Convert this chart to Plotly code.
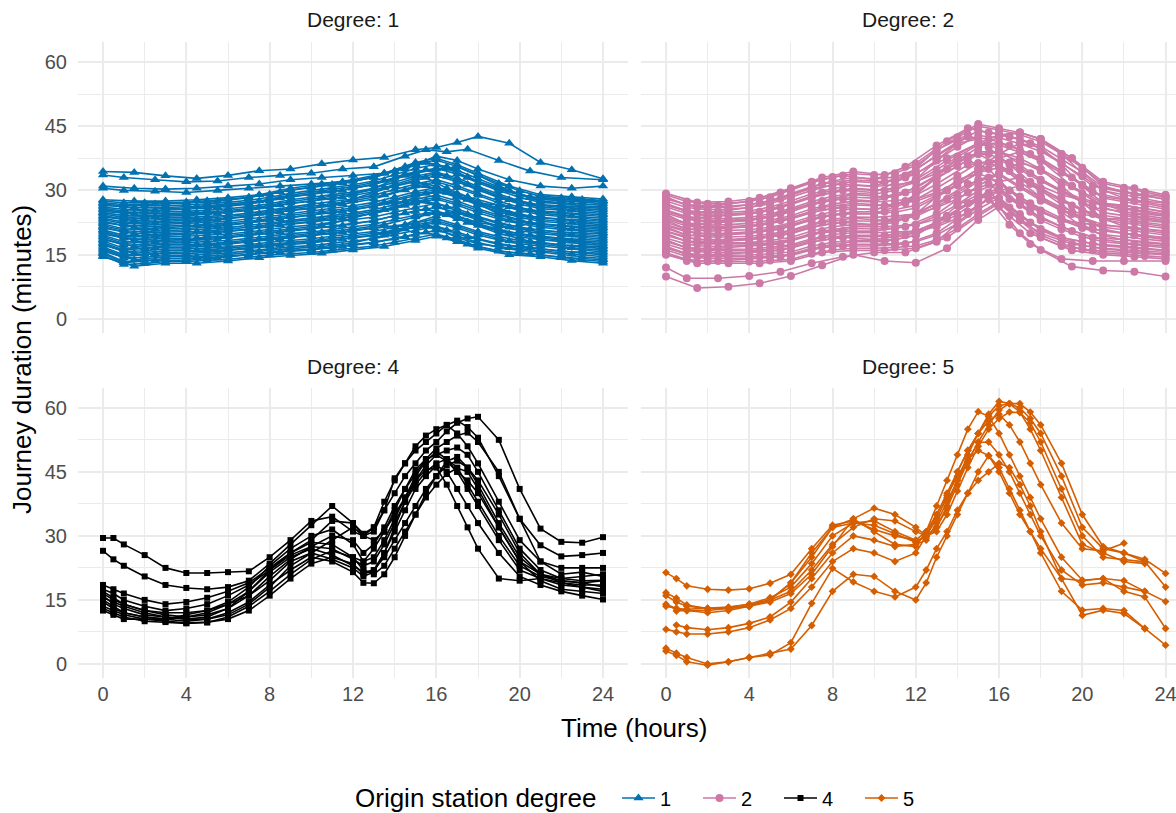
import plotly.graph_objects as go

# ---- colours / markers per origin-station degree ----
COLORS = {"1": "#0072B2", "2": "#CC79A7", "4": "#000000", "5": "#D55E00"}
SYMBOLS = {"1": "triangle-up", "2": "circle", "4": "square", "5": "diamond"}
MSIZE = {"1": 9, "2": 8, "4": 6, "5": 6}

# ---- sampling hours ----
D12_HOURS_A = [0, 1.5, 3, 4.5, 6, 7.5, 9, 10.5, 12, 13.5, 15, 16, 17, 18, 19.5, 21, 22.5, 24]
D12_HOURS_B = [0, 1, 2.5, 4, 5.5, 7, 8.5, 10, 11.5, 13, 14.5, 15.5, 16.5, 17.5, 19, 20.5, 22, 24]
D12_HOURS_C = [0, 1, 2, 3, 4, 5, 6, 7, 8, 9, 10, 11, 12, 13, 14, 15, 16, 17, 18, 19, 20, 21, 22, 23, 24]
D45_HOURS = [0, 0.5, 1, 2, 3, 4, 5, 6, 7, 8, 9, 10, 11, 12, 12.5, 13, 13.5, 14, 14.5,
             15, 15.5, 16, 16.5, 17, 17.5, 18, 19, 20, 21, 22, 23, 24]

# ---- degree 1 journeys (minutes), sampled on hours A / B alternately ----
DEG1_LINES = [
    [14.5, 12.3, 13.0, 13.0, 13.5, 14.3, 14.8, 15.3, 16.1, 16.9, 18.3, 19.3, 18.0, 16.5, 15.0, 14.5, 13.6, 13.0],
    [15.2, 13.1, 13.7, 13.7, 14.2, 15.0, 15.6, 16.1, 16.9, 17.8, 19.2, 20.2, 18.9, 17.4, 15.8, 15.2, 14.4, 13.8],
    [15.8, 13.8, 14.5, 14.5, 15.0, 15.8, 16.4, 16.9, 17.7, 19.5, 21.5, 21.1, 19.0, 17.5, 16.6, 15.9, 15.1, 14.5],
    [16.5, 14.6, 15.2, 15.2, 15.7, 16.5, 17.2, 17.7, 18.6, 19.5, 21.0, 22.0, 20.7, 19.1, 17.4, 16.7, 15.8, 15.3],
    [17.2, 15.3, 15.9, 16.0, 16.5, 17.2, 17.9, 18.5, 19.4, 20.3, 21.9, 22.9, 21.6, 20.0, 18.2, 17.4, 16.6, 16.0],
    [17.8, 16.1, 16.6, 16.7, 17.2, 18.0, 18.7, 19.4, 20.2, 21.2, 22.0, 24.5, 24.5, 22.5, 20.0, 18.1, 17.3, 16.8],
    [18.5, 16.9, 17.4, 17.4, 17.9, 18.7, 19.5, 20.2, 21.0, 22.0, 23.8, 24.8, 23.4, 21.8, 19.8, 18.9, 18.1, 17.5],
    [19.2, 17.6, 18.1, 18.2, 18.7, 19.5, 20.3, 21.0, 21.8, 22.9, 24.7, 25.7, 24.3, 22.6, 20.6, 19.6, 18.8, 18.3],
    [19.8, 18.4, 18.8, 18.9, 19.4, 20.2, 21.1, 21.8, 23.5, 25.5, 27.5, 26.6, 24.0, 22.5, 21.4, 20.3, 19.6, 19.0],
    [20.5, 19.1, 19.5, 19.7, 20.2, 20.9, 21.9, 22.6, 23.5, 24.6, 26.5, 27.5, 26.1, 24.4, 22.2, 21.0, 20.3, 19.8],
    [21.2, 19.9, 20.3, 20.4, 20.9, 21.7, 22.7, 23.4, 24.3, 25.5, 27.4, 28.4, 27.0, 25.3, 23.0, 21.8, 21.0, 20.5],
    [21.8, 20.7, 21.0, 21.1, 21.6, 22.4, 23.4, 24.2, 25.1, 26.3, 27.5, 29.3, 29.5, 28.0, 24.5, 22.5, 21.8, 21.3],
    [22.5, 21.4, 21.7, 21.9, 22.4, 23.1, 24.2, 25.0, 25.9, 27.2, 29.2, 30.2, 28.8, 27.0, 24.6, 23.2, 22.5, 22.0],
    [23.2, 22.2, 22.4, 22.6, 23.1, 23.9, 25.0, 25.8, 26.8, 28.0, 30.1, 31.1, 29.7, 27.9, 25.4, 23.9, 23.3, 22.8],
    [23.8, 22.9, 23.2, 23.4, 23.9, 24.6, 25.8, 26.6, 27.6, 28.9, 31.0, 32.0, 30.6, 28.8, 26.2, 24.7, 24.0, 23.5],
    [24.5, 23.7, 23.9, 24.1, 24.6, 25.3, 26.6, 27.5, 28.4, 30.5, 33.5, 33.0, 30.5, 28.5, 26.5, 25.4, 24.8, 24.3],
    [25.1, 24.5, 24.6, 24.8, 25.3, 26.1, 27.4, 28.3, 29.2, 30.6, 32.9, 33.9, 32.4, 30.5, 27.8, 26.1, 25.5, 25.0],
    [25.8, 25.2, 25.3, 25.6, 26.1, 26.8, 28.2, 29.1, 30.0, 31.4, 33.8, 34.8, 33.3, 31.4, 28.6, 26.8, 26.3, 25.8],
    [26.5, 26.0, 26.0, 26.3, 26.8, 27.5, 28.9, 29.9, 30.9, 32.3, 34.0, 35.0, 35.5, 33.5, 30.0, 27.5, 27.0, 26.5],
    [27.1, 26.7, 26.8, 27.0, 27.5, 28.3, 29.7, 30.7, 31.7, 33.1, 35.6, 36.6, 35.1, 33.1, 30.2, 28.3, 27.8, 27.3],
    [27.8, 27.5, 27.5, 27.8, 28.3, 29.0, 30.5, 31.5, 32.5, 34.0, 36.5, 37.5, 36.0, 34.0, 31.0, 29.0, 28.5, 28.0],
    [30.5, 30.0, 29.8, 29.5, 30.0, 30.5, 31.0, 31.5, 32.0, 33.0, 35.0, 36.5, 35.5, 33.0, 30.5, 28.5, 28.0, 27.5],
    [31.0, 30.5, 30.3, 30.5, 31.0, 31.5, 32.5, 33.0, 33.5, 34.0, 36.0, 38.0, 37.0, 35.0, 32.5, 31.0, 30.5, 31.0],
    [33.6, 33.0, 32.5, 32.0, 32.2, 33.0, 33.5, 34.0, 35.0, 35.5, 38.0, 39.5, 39.0, 39.6, 37.0, 34.5, 33.0, 32.5],
    [34.4, 34.2, 33.4, 32.8, 33.5, 34.6, 35.0, 36.2, 37.1, 37.7, 39.5, 40.0, 41.2, 42.6, 41.0, 36.5, 34.8, 32.7],
]

# ---- further degree 1 journeys, sampled hourly ----
DEG1_LINES_HOURLY = [
    [14.8, 12.7, 12.9, 13.4, 13.4, 13.6, 13.9, 14.4, 14.9, 15.2, 15.5, 16.0, 16.5, 17.0, 17.9, 18.8, 19.8, 18.5, 16.9, 15.9, 15.2, 14.9, 14.3, 13.8, 13.4],
    [15.5, 13.4, 13.6, 14.1, 14.1, 14.3, 14.6, 15.1, 15.6, 16.0, 16.3, 16.8, 17.3, 17.9, 18.8, 19.7, 20.7, 19.4, 17.8, 16.7, 16.0, 15.6, 15.0, 14.5, 14.1],
    [16.2, 14.2, 14.4, 14.8, 14.8, 15.1, 15.4, 15.9, 16.4, 16.8, 17.1, 17.6, 18.2, 18.7, 19.7, 20.6, 21.6, 20.3, 18.7, 17.6, 16.7, 16.3, 15.8, 15.3, 14.9],
    [16.8, 15.0, 15.1, 15.5, 15.6, 15.8, 16.1, 16.6, 17.1, 17.6, 17.9, 18.4, 19.0, 19.6, 20.6, 21.5, 22.5, 21.2, 19.6, 18.4, 17.5, 17.0, 16.5, 16.0, 15.6],
    [17.5, 15.7, 15.9, 16.3, 16.3, 16.5, 16.8, 17.3, 17.9, 18.3, 18.7, 19.3, 19.8, 20.4, 21.4, 22.4, 23.4, 22.0, 20.4, 19.2, 18.3, 17.8, 17.2, 16.8, 16.4],
    [18.2, 16.5, 16.6, 17.0, 17.0, 17.3, 17.6, 18.1, 18.6, 19.1, 19.5, 20.1, 20.6, 21.3, 21.5, 22.5, 24.0, 25.0, 23.5, 21.0, 19.1, 18.5, 18.0, 17.5, 17.1],
    [18.8, 17.2, 17.4, 17.7, 17.8, 18.0, 18.3, 18.8, 19.4, 19.9, 20.3, 20.9, 21.4, 22.1, 23.2, 24.2, 25.2, 23.9, 22.2, 20.9, 19.8, 19.2, 18.7, 18.2, 17.9],
    [19.5, 18.0, 18.1, 18.4, 18.5, 18.8, 19.1, 19.6, 20.1, 20.7, 21.1, 21.7, 22.3, 22.9, 24.1, 25.1, 26.1, 24.8, 23.1, 21.7, 20.6, 19.9, 19.5, 19.0, 18.6],
    [20.2, 18.8, 18.9, 19.2, 19.3, 19.5, 19.8, 20.3, 20.9, 21.5, 21.9, 22.5, 23.1, 23.8, 24.9, 26.0, 27.0, 25.7, 23.9, 22.5, 21.4, 20.7, 20.2, 19.7, 19.4],
    [20.8, 19.5, 19.6, 19.9, 20.0, 20.2, 20.5, 21.0, 21.6, 22.3, 22.8, 23.3, 23.9, 24.6, 25.8, 27.0, 28.0, 26.6, 24.8, 23.3, 22.2, 21.4, 20.9, 20.5, 20.1],
    [21.5, 20.3, 20.4, 20.6, 20.7, 21.0, 21.3, 21.8, 22.4, 23.0, 23.6, 24.1, 24.7, 25.5, 26.7, 27.9, 28.9, 27.5, 25.7, 24.2, 22.9, 22.1, 21.7, 21.2, 20.9],
    [22.2, 21.0, 21.1, 21.3, 21.5, 21.7, 22.0, 22.5, 23.1, 23.8, 24.4, 24.9, 25.5, 26.3, 27.6, 28.8, 29.8, 28.4, 26.6, 25.0, 23.7, 22.8, 22.4, 22.0, 21.6],
    [22.8, 21.8, 21.9, 22.1, 22.2, 22.5, 22.8, 23.3, 23.9, 24.6, 25.2, 25.7, 26.4, 27.2, 28.4, 29.7, 30.7, 29.3, 27.4, 25.8, 24.5, 23.6, 23.2, 22.7, 22.4],
    [23.5, 22.6, 22.6, 22.8, 22.9, 23.2, 23.5, 24.0, 24.6, 25.4, 26.0, 26.5, 28.0, 29.5, 31.0, 32.0, 31.0, 28.5, 27.0, 26.6, 25.3, 24.3, 23.9, 23.5, 23.1],
    [24.1, 23.3, 23.4, 23.5, 23.7, 23.9, 24.2, 24.7, 25.4, 26.2, 26.8, 27.4, 28.0, 28.9, 30.2, 31.5, 32.5, 31.1, 29.2, 27.5, 26.0, 25.0, 24.6, 24.2, 23.9],
    [24.8, 24.1, 24.1, 24.2, 24.4, 24.7, 25.0, 25.5, 26.1, 27.0, 27.6, 28.2, 28.8, 29.7, 31.1, 32.4, 33.4, 32.0, 30.1, 28.3, 26.8, 25.7, 25.4, 25.0, 24.6],
    [25.5, 24.8, 24.9, 25.0, 25.1, 25.4, 25.7, 26.2, 26.9, 27.8, 28.4, 29.0, 29.6, 30.5, 31.9, 33.3, 34.3, 32.9, 30.9, 29.1, 27.6, 26.5, 26.1, 25.7, 25.4],
    [26.1, 25.6, 25.6, 25.7, 25.9, 26.2, 26.5, 27.0, 27.6, 28.5, 29.2, 29.8, 30.5, 31.4, 32.8, 34.2, 35.2, 33.8, 31.8, 29.9, 28.4, 27.2, 26.9, 26.4, 26.1],
    [26.8, 26.4, 26.4, 26.4, 26.6, 26.9, 27.2, 27.7, 28.4, 29.3, 30.0, 30.6, 31.3, 32.2, 33.7, 35.1, 36.1, 34.7, 32.7, 30.8, 29.1, 27.9, 27.6, 27.2, 26.9],
    [27.5, 27.1, 27.1, 27.1, 27.3, 27.6, 27.9, 28.4, 29.1, 30.1, 30.8, 31.4, 32.1, 33.1, 34.6, 36.1, 37.1, 35.6, 33.6, 31.6, 29.9, 28.6, 28.3, 27.9, 27.6],
]

# ---- degree 2 journeys (minutes), sampled on hours A / B alternately ----
DEG2_LINES = [
    [15.0, 13.0, 13.0, 13.0, 13.5, 15.5, 16.0, 16.0, 16.5, 19.0, 24.0, 27.0, 23.0, 19.0, 16.0, 15.0, 14.5, 14.0],
    [15.5, 13.5, 13.5, 14.0, 14.5, 16.5, 17.0, 17.0, 17.5, 20.0, 25.0, 28.0, 24.0, 20.0, 17.0, 16.0, 15.5, 15.0],
    [16.5, 14.5, 14.5, 14.5, 15.0, 17.0, 18.0, 18.0, 19.5, 24.0, 28.5, 28.0, 23.0, 20.0, 17.5, 16.5, 16.0, 15.5],
    [17.0, 15.0, 15.0, 15.5, 16.0, 18.0, 19.0, 18.5, 19.5, 22.5, 27.0, 29.5, 26.0, 22.5, 19.0, 17.5, 17.0, 16.0],
    [18.0, 16.0, 16.0, 16.0, 17.0, 19.0, 19.5, 19.5, 20.5, 23.5, 28.5, 30.5, 27.0, 23.5, 20.5, 18.5, 17.5, 17.0],
    [18.5, 16.5, 16.5, 17.0, 17.5, 20.0, 20.5, 20.5, 21.5, 24.5, 29.5, 31.5, 28.0, 25.0, 21.5, 19.0, 18.5, 17.5],
    [19.5, 17.5, 17.5, 17.5, 18.5, 20.5, 21.5, 21.5, 22.0, 24.0, 28.0, 32.0, 33.0, 30.0, 25.0, 21.0, 19.5, 18.5],
    [20.0, 18.0, 18.0, 18.5, 19.5, 21.5, 22.5, 22.0, 23.5, 27.0, 31.5, 33.0, 30.0, 27.0, 23.5, 21.0, 20.0, 19.0],
    [20.5, 18.5, 18.5, 19.0, 20.5, 22.5, 23.5, 23.0, 24.5, 28.0, 32.5, 34.0, 31.0, 28.0, 24.5, 22.0, 21.0, 20.0],
    [21.5, 19.5, 19.5, 20.0, 21.0, 23.5, 24.5, 24.5, 27.0, 33.0, 37.0, 35.0, 30.0, 26.0, 23.0, 22.0, 21.5, 20.5],
    [22.0, 20.0, 20.0, 20.5, 22.0, 24.0, 25.0, 25.0, 26.5, 30.0, 35.0, 36.0, 33.0, 30.5, 26.5, 23.5, 22.5, 21.5],
    [23.0, 21.0, 21.0, 21.5, 23.0, 25.0, 26.0, 25.5, 27.5, 31.5, 36.0, 36.5, 34.5, 31.5, 28.0, 24.5, 23.5, 22.5],
    [23.5, 21.5, 21.5, 22.0, 23.5, 26.0, 27.0, 26.5, 27.5, 30.0, 34.0, 37.5, 39.0, 37.0, 31.0, 26.0, 24.0, 23.0],
    [24.5, 22.0, 22.5, 23.0, 24.5, 27.0, 28.0, 27.5, 29.5, 33.5, 38.0, 38.5, 36.5, 34.0, 30.0, 26.0, 25.0, 24.0],
    [25.0, 23.0, 23.0, 23.5, 25.5, 27.5, 29.0, 28.5, 30.5, 35.0, 39.0, 39.0, 37.5, 35.0, 31.0, 27.0, 25.5, 24.5],
    [25.5, 23.5, 24.0, 24.5, 26.0, 28.5, 30.0, 29.5, 33.0, 39.5, 43.0, 40.0, 36.0, 32.0, 29.0, 27.0, 26.5, 25.0],
    [26.5, 24.5, 24.5, 25.0, 27.0, 29.5, 30.5, 30.0, 32.5, 37.0, 41.0, 41.0, 39.5, 37.5, 33.0, 28.5, 27.5, 26.0],
    [27.0, 25.0, 25.0, 26.0, 28.0, 30.5, 31.5, 31.0, 33.5, 38.0, 42.5, 42.0, 40.5, 38.5, 34.5, 29.5, 28.0, 27.0],
    [28.0, 26.0, 26.0, 27.0, 29.0, 31.5, 32.5, 32.0, 34.0, 37.5, 41.0, 43.0, 43.5, 42.0, 37.5, 31.0, 29.0, 28.0],
    [28.5, 26.5, 26.5, 27.5, 29.5, 32.0, 33.5, 32.5, 35.5, 40.5, 44.5, 43.5, 42.5, 41.0, 36.5, 31.0, 29.5, 28.5],
    [29.3, 27.2, 27.4, 28.3, 30.5, 33.0, 34.4, 33.6, 36.3, 41.5, 45.5, 44.5, 43.5, 42.0, 37.5, 32.0, 30.5, 29.0],
    [12.0, 9.5, 9.5, 10.0, 11.0, 13.0, 14.5, 15.5, 15.5, 18.0, 24.5, 28.0, 22.0, 17.5, 14.0, 13.5, 13.5, 13.5],
    [9.9, 7.2, 7.5, 8.3, 10.0, 12.5, 15.0, 13.5, 13.1, 16.5, 23.1, 26.2, 20.0, 16.1, 12.2, 11.3, 11.0, 9.9],
]

# ---- further degree 2 journeys, sampled hourly ----
DEG2_LINES_HOURLY = [
    [15.4, 13.9, 13.4, 13.4, 13.4, 13.6, 13.9, 15.2, 16.1, 16.5, 16.5, 16.7, 17.0, 18.5, 21.1, 24.5, 27.4, 23.5, 19.6, 17.6, 16.2, 15.4, 15.1, 14.7, 14.4],
    [16.1, 14.6, 14.1, 14.1, 14.1, 14.4, 14.8, 16.1, 17.0, 17.4, 17.4, 17.6, 18.0, 19.6, 22.2, 25.6, 28.3, 24.5, 20.7, 18.7, 17.2, 16.3, 15.9, 15.5, 15.1],
    [16.8, 15.3, 14.8, 14.8, 14.9, 15.2, 15.6, 17.0, 17.9, 18.3, 18.3, 18.5, 19.5, 22.5, 26.5, 29.0, 28.0, 24.0, 21.0, 19.0, 18.0, 17.1, 16.7, 16.3, 15.9],
    [17.5, 16.0, 15.5, 15.5, 15.6, 15.9, 16.5, 17.9, 18.8, 19.2, 19.2, 19.4, 20.0, 21.8, 24.4, 27.8, 30.1, 26.6, 23.0, 20.9, 19.2, 18.0, 17.6, 17.1, 16.6],
    [18.2, 16.7, 16.2, 16.2, 16.3, 16.7, 17.3, 18.7, 19.7, 20.1, 20.1, 20.3, 20.5, 21.5, 23.5, 26.5, 30.0, 31.0, 28.5, 25.0, 21.5, 19.5, 18.4, 17.8, 17.4],
    [18.9, 17.4, 16.9, 17.0, 17.1, 17.5, 18.2, 19.6, 20.6, 21.1, 21.0, 21.2, 22.0, 24.0, 26.7, 29.9, 31.8, 28.6, 25.3, 23.1, 21.2, 19.7, 19.2, 18.6, 18.1],
    [19.7, 18.2, 17.7, 17.7, 17.8, 18.3, 19.0, 20.5, 21.5, 22.0, 21.9, 22.5, 24.5, 28.5, 32.5, 34.0, 32.0, 28.0, 25.0, 23.0, 21.5, 20.5, 20.0, 19.4, 18.9],
    [20.4, 18.9, 18.4, 18.4, 18.6, 19.1, 19.9, 21.3, 22.4, 22.9, 22.8, 23.1, 23.9, 26.2, 28.9, 32.1, 33.6, 30.7, 27.6, 25.3, 23.2, 21.4, 20.8, 20.2, 19.6],
    [21.1, 19.6, 19.1, 19.1, 19.3, 19.8, 20.7, 22.2, 23.3, 23.8, 23.7, 24.0, 24.5, 26.0, 28.0, 31.0, 34.0, 36.5, 35.0, 31.0, 27.0, 23.5, 21.6, 21.0, 20.4],
    [21.8, 20.3, 19.8, 19.8, 20.0, 20.6, 21.6, 23.1, 24.2, 24.7, 24.6, 24.9, 25.9, 28.4, 31.2, 34.2, 35.3, 32.7, 29.9, 27.5, 25.3, 23.1, 22.4, 21.8, 21.1],
    [22.5, 21.0, 20.5, 20.6, 20.8, 21.4, 22.4, 23.9, 25.0, 25.7, 25.5, 26.5, 29.0, 33.5, 37.5, 38.5, 36.0, 32.0, 28.5, 26.0, 24.5, 23.5, 23.3, 22.5, 21.9],
    [23.2, 21.7, 21.2, 21.3, 21.5, 22.2, 23.3, 24.8, 25.9, 26.6, 26.4, 26.7, 27.9, 30.5, 33.4, 36.4, 37.1, 34.8, 32.2, 29.7, 27.3, 24.8, 24.1, 23.3, 22.6],
    [23.9, 22.4, 21.9, 22.0, 22.3, 23.0, 24.1, 25.7, 26.8, 27.5, 27.3, 27.6, 28.0, 29.5, 32.0, 35.0, 38.5, 41.0, 40.0, 36.0, 31.0, 27.0, 25.0, 24.1, 23.4],
    [24.7, 23.2, 22.7, 22.7, 23.0, 23.7, 25.0, 26.6, 27.7, 28.4, 28.2, 28.6, 29.9, 32.7, 35.7, 38.5, 38.8, 36.8, 34.5, 31.9, 29.3, 26.5, 25.7, 24.9, 24.1],
    [25.4, 23.9, 23.4, 23.4, 23.7, 24.5, 25.8, 27.4, 28.6, 29.3, 29.1, 30.0, 32.5, 37.0, 41.0, 42.0, 39.5, 36.0, 32.5, 30.0, 28.0, 27.0, 26.5, 25.7, 24.9],
    [26.1, 24.6, 24.1, 24.2, 24.5, 25.3, 26.7, 28.3, 29.5, 30.3, 30.0, 30.4, 31.9, 34.9, 37.9, 40.7, 40.6, 38.9, 36.8, 34.1, 31.3, 28.2, 27.3, 26.5, 25.6],
    [26.8, 25.3, 24.8, 24.9, 25.2, 26.1, 27.5, 29.2, 30.4, 31.2, 30.9, 31.3, 32.0, 34.0, 37.0, 40.0, 42.5, 43.5, 42.0, 38.5, 34.0, 30.0, 28.2, 27.3, 26.4],
    [27.5, 26.0, 25.5, 25.6, 26.0, 26.9, 28.4, 30.0, 31.3, 32.1, 31.8, 32.2, 33.8, 37.1, 40.2, 42.8, 42.3, 40.9, 39.1, 36.3, 33.3, 29.9, 29.0, 28.0, 27.1],
    [28.2, 26.7, 26.2, 26.3, 26.7, 27.6, 29.2, 30.9, 32.2, 33.0, 32.7, 33.1, 34.8, 38.2, 41.3, 43.9, 43.2, 42.0, 40.3, 37.4, 34.3, 30.7, 29.8, 28.8, 27.9],
    [28.9, 27.4, 26.9, 27.0, 27.4, 28.4, 30.1, 31.8, 33.1, 33.9, 33.6, 34.0, 35.8, 39.3, 42.4, 45.0, 44.1, 43.0, 41.4, 38.5, 35.3, 31.6, 30.6, 29.6, 28.6],
]

# ---- degree 4 journeys (minutes) ----
DEG4_LINES = [
    [29.5, 29.5, 28.0, 25.5, 22.5, 21.3, 21.3, 21.5, 21.7, 25.0, 29.0, 33.5, 34.5, 31.0, 30.0, 32.0, 36.0, 40.0, 44.0, 47.0, 50.0, 52.0, 54.5, 56.5, 57.5, 57.9, 52.5, 41.0, 31.7, 28.6, 28.4, 29.7],
    [26.5, 24.5, 23.0, 20.5, 18.5, 17.8, 17.5, 18.0, 19.5, 23.5, 28.0, 32.5, 37.0, 33.0, 30.0, 31.0, 36.0, 43.5, 47.0, 50.0, 52.0, 54.0, 56.0, 57.0, 55.5, 53.0, 44.0, 34.0, 27.8, 25.2, 25.5, 26.0],
    [18.5, 17.5, 16.5, 15.0, 14.0, 14.5, 15.5, 17.0, 19.0, 22.5, 26.0, 29.0, 33.5, 33.0, 30.5, 32.0, 38.0, 43.0, 47.0, 51.0, 53.5, 55.0, 56.0, 54.0, 51.0, 47.0, 38.0, 29.0, 24.0, 22.5, 22.5, 22.5],
    [17.0, 15.5, 14.0, 12.5, 11.5, 11.0, 11.5, 13.0, 16.0, 20.5, 24.5, 27.5, 30.0, 29.0, 26.0, 28.0, 32.0, 37.0, 41.0, 44.5, 48.0, 50.5, 52.0, 53.5, 54.2, 52.0, 45.0, 34.0, 24.0, 21.0, 21.5, 20.5],
    [16.0, 14.0, 13.0, 11.5, 11.0, 10.5, 11.0, 13.0, 17.0, 22.0, 26.0, 28.5, 28.0, 25.0, 24.0, 27.0, 31.0, 35.0, 39.0, 43.0, 46.5, 49.0, 50.0, 50.7, 49.0, 45.0, 36.0, 27.0, 22.0, 20.0, 19.5, 19.6],
    [15.0, 13.5, 12.0, 11.0, 10.5, 11.5, 12.5, 14.5, 18.0, 23.0, 27.0, 30.0, 31.5, 28.0, 24.0, 25.0, 29.0, 34.0, 39.0, 44.0, 47.5, 49.7, 48.0, 45.0, 41.0, 37.0, 29.0, 22.0, 20.0, 18.5, 18.0, 17.5],
    [14.5, 13.0, 12.0, 11.0, 10.5, 11.0, 12.0, 14.0, 17.0, 21.5, 25.0, 27.0, 25.5, 23.0, 21.5, 22.0, 25.0, 29.0, 33.0, 37.0, 41.0, 44.0, 46.5, 47.6, 46.0, 43.0, 35.0, 26.0, 21.0, 19.0, 18.5, 18.5],
    [13.5, 12.5, 11.5, 10.5, 10.0, 9.6, 9.8, 10.5, 12.5, 16.0, 20.0, 23.5, 25.0, 23.5, 21.0, 22.0, 26.0, 31.0, 36.0, 41.0, 44.0, 46.5, 45.0, 41.0, 37.0, 33.0, 26.0, 20.5, 18.5, 17.0, 16.0, 15.1],
    [13.0, 12.0, 11.0, 10.0, 9.8, 9.5, 9.7, 11.0, 13.5, 17.0, 21.0, 24.5, 26.5, 25.0, 22.0, 21.0, 23.0, 27.0, 31.0, 35.0, 39.0, 42.0, 44.5, 45.9, 45.0, 41.0, 32.0, 24.0, 19.5, 17.5, 17.0, 16.5],
    [16.5, 15.0, 14.0, 12.5, 12.0, 12.0, 12.5, 14.0, 16.0, 19.5, 24.0, 26.0, 24.5, 22.5, 20.5, 21.5, 26.0, 32.0, 38.0, 43.0, 45.5, 46.0, 42.0, 37.0, 32.0, 27.0, 20.0, 19.5, 20.0, 19.0, 18.0, 17.0],
    [12.5, 11.5, 10.5, 10.5, 10.5, 10.0, 10.5, 12.0, 14.5, 18.5, 22.0, 25.0, 24.0, 21.5, 19.0, 18.9, 21.0, 25.0, 30.0, 35.0, 40.0, 44.0, 47.5, 48.5, 46.0, 42.0, 33.0, 25.0, 21.0, 19.5, 19.0, 18.0],
    [17.5, 16.5, 15.0, 13.5, 12.5, 13.0, 14.0, 16.0, 18.5, 22.0, 25.5, 27.5, 27.0, 24.5, 23.0, 24.0, 28.0, 33.0, 38.0, 42.0, 45.0, 47.0, 48.0, 46.0, 42.0, 38.0, 30.0, 23.0, 20.5, 19.5, 19.0, 19.5],
    [15.5, 14.5, 13.5, 12.0, 11.0, 10.5, 10.5, 11.5, 14.0, 18.0, 23.0, 26.0, 29.0, 32.0, 30.0, 29.0, 31.0, 36.0, 41.0, 45.5, 48.0, 49.0, 47.5, 45.0, 43.0, 40.0, 32.0, 24.0, 21.0, 20.0, 20.5, 21.0],
]

# ---- degree 5 journeys (minutes); None = no trips in that hour ----
DEG5_LINES = [
    [21.4, 20.0, 18.3, 17.5, 17.3, 17.6, 18.9, 21.0, 27.0, 32.5, 33.5, 31.5, 30.0, 29.0, 31.0, 35.0, 40.0, 45.0, 50.0, 54.0, 57.0, 58.5, 56.0, 52.0, 47.0, 42.0, 33.0, 27.0, 26.5, 28.3, None, None],
    [16.7, 15.4, 13.8, 13.0, 13.0, 13.5, 15.0, 19.0, 25.0, 32.0, 33.0, 32.5, 30.5, 28.5, 30.0, 34.0, 39.0, 45.0, 50.0, 54.0, 58.0, 60.5, 61.0, 60.0, 57.5, 54.0, 44.0, 32.0, 27.0, 26.0, 24.5, 21.2],
    [16.0, 14.5, 13.5, 13.0, 13.2, 14.0, 15.5, 18.0, 23.5, 30.0, 33.0, 33.5, 31.0, 29.0, 29.5, 32.0, 36.5, 42.0, 47.5, 52.0, 56.0, 59.5, 61.0, 61.0, 59.0, 56.0, 47.0, 35.0, 27.5, 26.0, 24.0, 18.0],
    [13.5, 13.0, 12.8, 13.0, 13.3, 14.0, 15.0, 17.0, 22.0, 28.0, 32.0, 34.0, 33.5, 31.0, 30.0, 32.0, 37.0, 43.0, 49.0, 54.0, 58.5, 61.5, 61.0, 59.0, 55.0, 50.0, 39.0, 28.0, 26.0, 24.0, 23.5, None],
    [None, 12.4, 12.5, 12.5, 13.0, 13.5, 14.5, 16.5, 21.0, 27.5, 34.0, 36.5, 35.0, 32.0, 30.0, 31.0, 35.0, 40.5, 46.0, 51.0, 55.0, 57.5, 59.0, 58.9, 56.5, 52.0, 41.0, 30.0, 25.0, 24.5, 23.9, None],
    [14.0, 13.0, 12.5, 12.0, 12.5, 13.5, 15.0, 19.0, 26.0, 32.0, 34.0, 31.0, 28.0, 27.5, 31.0, 37.0, 43.0, 49.0, 55.0, 59.1, 58.0, 54.0, 49.0, 44.0, 39.0, 34.0, 25.0, 19.6, 20.0, 19.5, 17.0, None],
    [8.1, 7.5, 7.0, 7.0, 7.5, 8.5, 10.3, 13.0, 18.0, 24.0, 27.0, 26.0, 24.0, 26.0, 30.0, 35.0, 39.5, 44.0, 48.0, 50.0, 48.8, 45.0, 40.0, 35.0, 31.0, 27.0, 20.0, 19.5, 20.0, 17.0, 15.7, 8.3],
    [None, 9.1, 8.5, 8.0, 8.5, 9.5, 11.0, 14.5, 20.0, 26.0, 30.0, 29.0, 27.5, 28.0, 29.0, 33.0, 38.0, 43.0, 47.5, 51.9, 52.0, 49.0, 45.0, 40.0, 35.0, 30.0, 22.0, 18.5, 19.0, 18.0, 17.0, 14.6],
    [3.7, 2.5, 1.5, 0.0, 0.5, 1.5, 2.1, 5.0, 14.2, 22.4, 19.2, 17.0, 15.7, 18.0, 22.0, 27.0, 31.0, 36.0, 40.0, 43.0, 45.0, 47.0, 46.0, 42.0, 37.0, 31.0, 20.0, 11.4, 12.6, 11.8, 8.3, None],
    [3.0, 2.0, 0.5, -0.3, 0.5, 1.5, 2.5, 3.5, 9.0, 17.0, 21.0, 20.5, 17.0, 15.0, 19.0, 25.0, 30.0, 35.0, 40.0, 45.0, 48.8, 46.0, 41.0, 36.0, 31.0, 26.0, 17.0, 12.6, 13.0, 12.5, 8.3, 4.4],
]

DEGREE_LABELS = ["1", "2", "4", "5"]

fig = go.Figure()


def add_line(deg, xa, ya, hours, vals, show):
    fig.add_trace(go.Scatter(
        x=hours, y=vals, xaxis=xa, yaxis=ya,
        mode="lines+markers",
        line=dict(color=COLORS[deg], width=1.6),
        marker=dict(symbol=SYMBOLS[deg], size=MSIZE[deg], color=COLORS[deg],
                    line=dict(width=0)),
        name=deg, legendgroup=deg, showlegend=show,
        connectgaps=False,
    ))


# degree 1 and 2: offset samples interleaved with hourly samples
for deg, xa, ya, lines_ab, lines_c in [("1", "x", "y", DEG1_LINES, DEG1_LINES_HOURLY),
                                        ("2", "x2", "y2", DEG2_LINES, DEG2_LINES_HOURLY)]:
    first = True
    for i, vals in enumerate(lines_ab):
        add_line(deg, xa, ya, D12_HOURS_A if i % 2 == 0 else D12_HOURS_B, vals, first)
        first = False
        if i < len(lines_c):
            add_line(deg, xa, ya, D12_HOURS_C, lines_c[i], False)

for deg, xa, ya, lines in [("4", "x3", "y3", DEG4_LINES), ("5", "x4", "y4", DEG5_LINES)]:
    for i, vals in enumerate(lines):
        add_line(deg, xa, ya, D45_HOURS, vals, i == 0)

L = 78
W = 1176 - L
PH = 678 - 42


def px_x(p):
    return (p - L) / W


def px_y(p):
    return (678 - p) / PH


grid = "#EBEBEB"
xdom_left = [0, px_x(628)]
xdom_right = [px_x(641), 1]
ydom_top = [px_y(333), 1]
ydom_bot = [0, px_y(388)]

tickfont = dict(size=20, color="#4D4D4D")
common_x = dict(tick0=0, dtick=4, showgrid=True, gridcolor=grid, gridwidth=1.6,
                zeroline=False, showline=False, ticks="", ticklabelstandoff=2,
                tickfont=tickfont, ticklabeloverflow="allow",
                minor=dict(tick0=0, dtick=2, showgrid=True, gridcolor=grid, gridwidth=0.8))
common_y = dict(range=[-3.3, 64.65], tick0=0, dtick=15, showgrid=True, gridcolor=grid,
                gridwidth=1.6, zeroline=False, showline=False, ticks="",
                ticklabelstandoff=10, tickfont=tickfont,
                minor=dict(tick0=0, dtick=7.5, showgrid=True, gridcolor=grid, gridwidth=0.8))

fig.update_layout(
    width=1176, height=813,
    margin=dict(l=L, r=0, t=42, b=813 - 678, autoexpand=False),
    paper_bgcolor="white", plot_bgcolor="white",
    font=dict(family="Liberation Sans, Arial, sans-serif", color="#000000"),
    xaxis=dict(domain=xdom_left, anchor="y", range=[-1.2, 25.2], showticklabels=False, **common_x),
    yaxis=dict(domain=ydom_top, anchor="x", showticklabels=True, **common_y),
    xaxis2=dict(domain=xdom_right, anchor="y2", range=[-1.2, 24.5], showticklabels=False, **common_x),
    yaxis2=dict(domain=ydom_top, anchor="x2", showticklabels=False, **common_y),
    xaxis3=dict(domain=xdom_left, anchor="y3", range=[-1.2, 25.2], showticklabels=True, **common_x),
    yaxis3=dict(domain=ydom_bot, anchor="x3", showticklabels=True, **common_y),
    xaxis4=dict(domain=xdom_right, anchor="y4", range=[-1.2, 24.5], showticklabels=True, **common_x),
    yaxis4=dict(domain=ydom_bot, anchor="x4", showticklabels=False, **common_y),
    legend=dict(orientation="h", x=px_x(617), xanchor="left", y=px_y(798), yanchor="middle",
                font=dict(size=20, color="#000000"), itemwidth=33,
                entrywidth=33, entrywidthmode="pixels",
                bgcolor="rgba(0,0,0,0)"),
)

strip = [("Degree: 1", 353, 20), ("Degree: 2", 908, 20),
         ("Degree: 4", 353, 366), ("Degree: 5", 908, 366)]
for text, cx, cy in strip:
    fig.add_annotation(text=text, xref="paper", yref="paper", x=px_x(cx), y=px_y(cy),
                       showarrow=False, xanchor="center", yanchor="middle",
                       font=dict(size=21, color="#1A1A1A"))

fig.add_annotation(text="Origin station degree", xref="paper", yref="paper",
                   x=px_x(353), y=px_y(798), showarrow=False,
                   xanchor="left", yanchor="middle", font=dict(size=26, color="#000000"))
fig.add_annotation(text="Time (hours)", xref="paper", yref="paper",
                   x=px_x(634), y=px_y(728), showarrow=False,
                   xanchor="center", yanchor="middle", font=dict(size=26, color="#000000"))
fig.add_annotation(text="Journey duration (minutes)", xref="paper", yref="paper",
                   x=px_x(22), y=px_y(360), showarrow=False, textangle=-90,
                   xanchor="center", yanchor="middle", font=dict(size=26, color="#000000"))

fig.write_html("out.html")
